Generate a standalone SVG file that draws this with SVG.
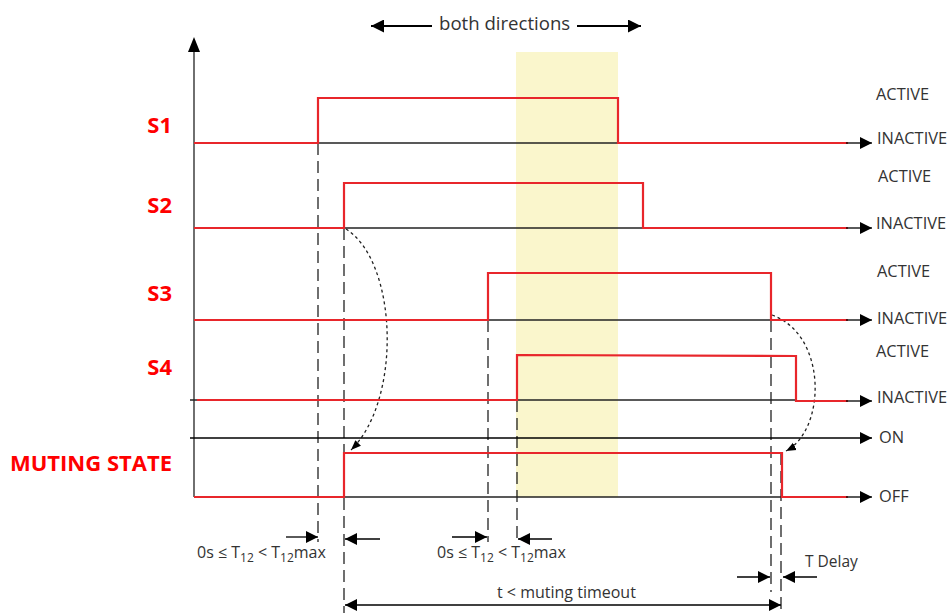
<svg xmlns="http://www.w3.org/2000/svg" width="950" height="613" viewBox="0 0 950 613">
<defs>
<marker id="ah" viewBox="0 0 10 10" refX="10" refY="5" markerWidth="10" markerHeight="10" markerUnits="userSpaceOnUse" orient="auto"><path d="M0,1 L10,5 L0,9 Z" fill="#000"/></marker>
<marker id="ahb" viewBox="0 0 10 10" refX="10" refY="5" markerWidth="14" markerHeight="12" markerUnits="userSpaceOnUse" orient="auto"><path d="M0,0 L10,5 L0,10 Z" fill="#000"/></marker>
<marker id="ahbs" viewBox="0 0 10 10" refX="0" refY="5" markerWidth="14" markerHeight="12" markerUnits="userSpaceOnUse" orient="auto"><path d="M10,0 L0,5 L10,10 Z" fill="#000"/></marker>
<marker id="ahl" viewBox="0 0 10 10" refX="10" refY="5" markerWidth="18" markerHeight="13" markerUnits="userSpaceOnUse" orient="auto"><path d="M0,0 L10,5 L0,10 Z" fill="#000"/></marker>
</defs>
<style>
.sig{fill:none;stroke:#e8262b;stroke-width:2.2}
.base{fill:none;stroke:#222;stroke-width:1.3}
.dash{fill:none;stroke:#222;stroke-width:1.3;stroke-dasharray:12,6}
.dot{fill:none;stroke:#222;stroke-width:1.3;stroke-dasharray:3,3}
.arr{fill:none;stroke:#000;stroke-width:1.3}
.lbl{font-family:"Open Sans","Liberation Sans",sans-serif;font-size:16.4px;fill:#333}
.name{font-family:"Open Sans","Liberation Sans",sans-serif;font-size:22px;font-weight:bold;fill:#ff0000;text-anchor:end}
.bt{font-size:16px}
.sm{font-size:12px}
</style>
<rect x="516" y="52" width="102" height="445" fill="#faf6cc"/>
<g id="axis">
<line class="base" x1="194" y1="497" x2="194" y2="50"/>
<path d="M188,52 L194,37 L200,52 Z" fill="#000"/>
</g>
<g id="connectors">
<line class="dash" x1="318" y1="143" x2="318" y2="542"/>
<line class="dash" x1="344" y1="228" x2="344" y2="613"/>
<line class="dash" x1="488" y1="320" x2="488" y2="542"/>
<line class="dash" x1="517" y1="400" x2="517" y2="542"/>
<line class="dash" x1="771" y1="320" x2="771" y2="592"/>
<line class="dash" x1="781" y1="453" x2="781" y2="613"/>
<path class="dot" d="M346,229 C398,262 402,400 351,450" marker-end="url(#ah)"/>
<path class="dot" d="M772,315 C828,335 826,430 786,451" marker-end="url(#ah)"/>
</g>
<g id="S1">
<text class="name" x="172" y="133">S1</text>
<line class="base" x1="318" y1="143" x2="618" y2="143"/>
<polyline class="sig" points="194,143 318,143 318,98 618,98 618,143 848,143"/>
<line class="arr" x1="846" y1="143" x2="872" y2="143" marker-end="url(#ahb)"/>
<text class="lbl" x="876" y="100">ACTIVE</text>
<text class="lbl" x="877" y="144">INACTIVE</text>
</g>
<g id="S2">
<text class="name" x="172" y="213">S2</text>
<line class="base" x1="344" y1="228" x2="643" y2="228"/>
<polyline class="sig" points="194,228 344,228 344,183 643,183 643,228 848,228"/>
<line class="arr" x1="846" y1="228" x2="872" y2="228" marker-end="url(#ahb)"/>
<text class="lbl" x="878" y="182">ACTIVE</text>
<text class="lbl" x="876" y="229">INACTIVE</text>
</g>
<g id="S3">
<text class="name" x="172" y="301">S3</text>
<line class="base" x1="488" y1="320" x2="771" y2="320"/>
<polyline class="sig" points="194,320 488,320 488,273 771,273 771,320 848,320"/>
<line class="arr" x1="846" y1="320" x2="872" y2="320" marker-end="url(#ahb)"/>
<text class="lbl" x="877" y="277">ACTIVE</text>
<text class="lbl" x="877" y="324">INACTIVE</text>
</g>
<g id="S4">
<text class="name" x="172" y="375">S4</text>
<line class="base" x1="190" y1="400" x2="796" y2="400"/>
<polyline class="sig" points="197,400 517,400 517,355 796,356 796,401 848,401"/>
<line class="arr" x1="846" y1="401" x2="872" y2="401" marker-end="url(#ahb)"/>
<text class="lbl" x="876" y="357">ACTIVE</text>
<text class="lbl" x="877" y="403">INACTIVE</text>
</g>
<g id="ON">
<line class="arr" x1="190" y1="438" x2="872" y2="438" marker-end="url(#ahb)"/>
<text class="lbl" x="879" y="443">ON</text>
</g>
<g id="MUTING">
<text class="name" x="172" y="471">MUTING STATE</text>
<line class="base" x1="344" y1="497" x2="782" y2="497"/>
<polyline class="sig" points="194,497 344,497 344,453 782,453 782,497 848,497"/>
<line class="arr" x1="846" y1="497" x2="872" y2="497" marker-end="url(#ahb)"/>
<text class="lbl" x="879" y="502">OFF</text>
</g>
<g id="both">
<line class="arr" style="stroke-width:2" x1="432" y1="26" x2="371" y2="26" marker-end="url(#ahl)"/>
<line class="arr" style="stroke-width:2" x1="577" y1="26" x2="641" y2="26" marker-end="url(#ahl)"/>
<text class="lbl" x="439" y="30" style="font-size:18.6px">both directions</text>
</g>
<g id="T12a">
<line class="arr" x1="286" y1="537" x2="318" y2="537" marker-end="url(#ahb)"/>
<line class="arr" x1="380" y1="539" x2="345" y2="539" marker-end="url(#ahb)"/>
<text class="lbl" x="197" y="558" style="font-size:16px">0s ≤ T<tspan class="sm" dy="4">12</tspan><tspan dy="-4"> &lt; T</tspan><tspan class="sm" dy="4">12</tspan><tspan dy="-4">max</tspan></text>
</g>
<g id="T12b">
<line class="arr" x1="452" y1="537" x2="487" y2="537" marker-end="url(#ahb)"/>
<line class="arr" x1="552" y1="539" x2="518" y2="539" marker-end="url(#ahb)"/>
<text class="lbl" x="437" y="558" style="font-size:16px">0s ≤ T<tspan class="sm" dy="4">12</tspan><tspan dy="-4"> &lt; T</tspan><tspan class="sm" dy="4">12</tspan><tspan dy="-4">max</tspan></text>
</g>
<g id="TDelay">
<line class="arr" x1="737" y1="577" x2="770" y2="577" marker-end="url(#ahb)"/>
<line class="arr" x1="817" y1="577" x2="783" y2="577" marker-end="url(#ahb)"/>
<text class="lbl" x="805" y="567" style="font-size:15.5px">T Delay</text>
</g>
<g id="timeout">
<line class="arr" x1="345" y1="605" x2="781" y2="605" marker-start="url(#ahbs)" marker-end="url(#ahb)"/>
<text class="lbl" x="497" y="598" style="font-size:16px">t &lt; muting timeout</text>
</g>
</svg>
